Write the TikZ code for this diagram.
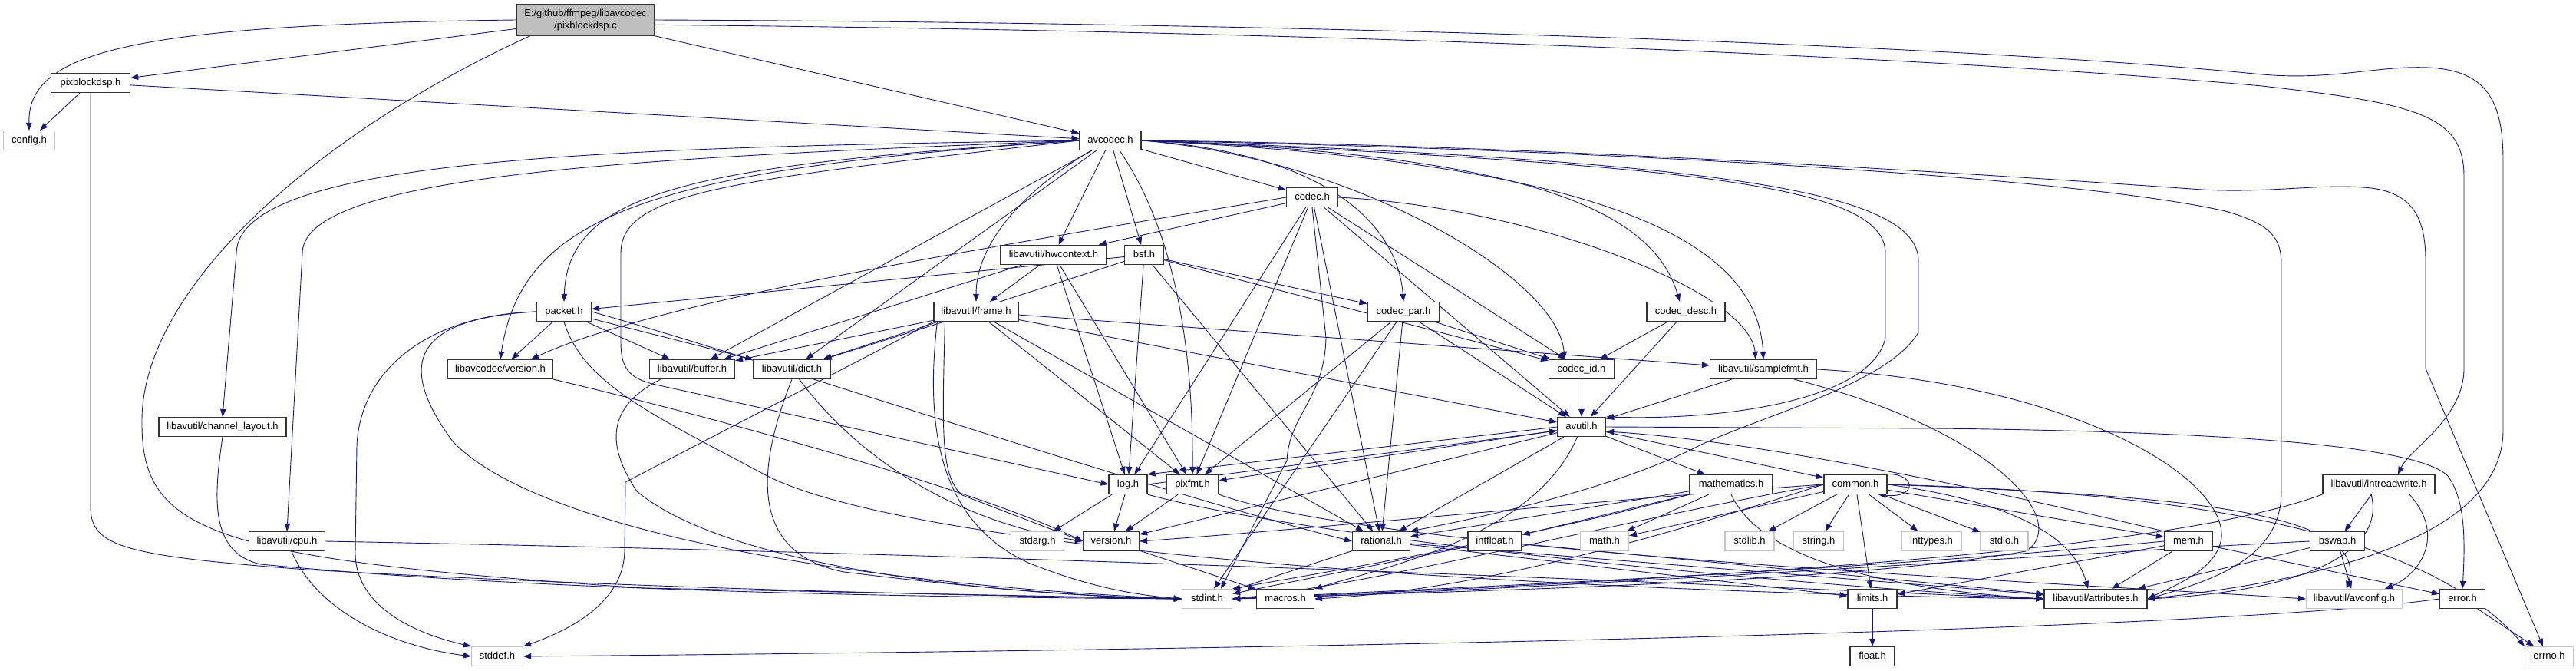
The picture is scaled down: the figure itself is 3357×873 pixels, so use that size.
\documentclass[tikz,border=0pt]{standalone}
\usepackage{fontspec}
\setmainfont{Liberation Sans}
\usepackage{tikz}
\usetikzlibrary{arrows.meta,backgrounds}
\definecolor{edgecol}{RGB}{25,25,112}
\definecolor{rootcol}{RGB}{191,191,191}
\definecolor{extcol}{RGB}{196,196,196}
\pgfdeclarelayer{edgelayer}
\pgfsetlayers{background,edgelayer,main}

\begin{document}
\begin{tikzpicture}[
    x=1pt, y=-1pt,
    dep/.style={-{Triangle[length=10pt,width=7.5pt]}, draw=edgecol, line width=0.9pt},
    box/.style={draw=black!80, line width=1.2pt, fill=white, inner sep=0pt,
                font=\fontsize{13}{16}\selectfont, minimum height=25pt},
    file/.style={box, minimum width=#1pt, text height=9.5pt, text depth=2.5pt},
    ext/.style={file=#1, draw=extcol},
    rootbox/.style={box, fill=rootcol, minimum width=180pt, minimum height=40pt, align=center}
  ]
  \begin{scope}[on background layer]
    \fill[white] (0,0) rectangle (3357,873);
  \end{scope}
  \useasboundingbox (0,0) rectangle (3357,873);

  \node[rootbox] (root) at (763,26) {E:/github/ffmpeg/libavcodec\\/pixblockdsp.c};
  \node[file=103] (pbh) at (118,108) {pixblockdsp.h};
  \node[ext=67] (config) at (38,183) {config.h};
  \node[file=80] (avcodec) at (1447,183) {avcodec.h};
  \node[file=67] (codec) at (1710,257) {codec.h};
  \node[file=138] (hwctx) at (1373,332) {libavutil/hwcontext.h};
  \node[file=51] (bsf) at (1491,332) {bsf.h};
  \node[file=71] (packet) at (735,406) {packet.h};
  \node[file=110] (frame) at (1272,406) {libavutil/frame.h};
  \node[file=94] (codecpar) at (1829,406) {codec\_par.h};
  \node[file=102] (codecdesc) at (2197,406) {codec\_desc.h};
  \node[file=137] (lavcver) at (652,481) {libavcodec/version.h};
  \node[file=111] (buffer) at (902,481) {libavutil/buffer.h};
  \node[file=100] (dict) at (1032,481) {libavutil/dict.h};
  \node[file=85] (codecid) at (2061,481) {codec\_id.h};
  \node[file=139] (samplefmt) at (2298,481) {libavutil/samplefmt.h};
  \node[file=166] (chlayout) at (290,556) {libavutil/channel\_layout.h};
  \node[file=63] (avutil) at (2061,556) {avutil.h};
  \node[file=50] (log) at (1470,631) {log.h};
  \node[file=68] (pixfmt) at (1554,631) {pixfmt.h};
  \node[file=108] (mathematics) at (2256,631) {mathematics.h};
  \node[file=82] (common) at (2418,631) {common.h};
  \node[file=146] (intreadwrite) at (3100,631) {libavutil/intreadwrite.h};
  \node[file=99] (cpu) at (374,705) {libavutil/cpu.h};
  \node[ext=69] (stdarg) at (1352,705) {stdarg.h};
  \node[file=73] (version) at (1448,705) {version.h};
  \node[file=75] (rational) at (1800,705) {rational.h};
  \node[file=70] (intfloat) at (1948,705) {intfloat.h};
  \node[ext=63] (math) at (2091,705) {math.h};
  \node[ext=64] (stdlib) at (2280,705) {stdlib.h};
  \node[ext=65] (string) at (2370,705) {string.h};
  \node[ext=78] (inttypes) at (2517,705) {inttypes.h};
  \node[ext=62] (stdio) at (2612,705) {stdio.h};
  \node[file=63] (mem) at (2852,705) {mem.h};
  \node[file=71] (bswap) at (3046,705) {bswap.h};
  \node[ext=65] (stdint) at (1573,780) {stdint.h};
  \node[file=75] (macros) at (1675,780) {macros.h};
  \node[file=134] (attributes) at (2731,780) {libavutil/attributes.h};
  \node[file=64] (limits) at (2440,780) {limits.h};
  \node[ext=125] (avconfig) at (3068,780) {libavutil/avconfig.h};
  \node[file=59] (error) at (3209,780) {error.h};
  \node[ext=67] (stddef) at (648,855) {stddef.h};
  \node[file=58] (float) at (2440,855) {float.h};
  \node[ext=63] (errno) at (3322,855) {errno.h};

  \begin{pgfonlayer}{edgelayer}
  \draw[dep] (root.west) .. controls (160,32) and (36,70) .. (config.north);
  \draw[dep] (root) -- (pbh);
  \draw[dep] (root) -- (avcodec);
  \draw[dep] (root.196) .. controls (420,170) and (188,370) .. (185,545) .. controls (183,690) and (260,728) .. (840,766) -- (stdint.west);
  \draw[dep] (root.356) .. controls (1700,40) and (2500,72) .. (2948,112) .. controls (3150,135) and (3211,150) .. (3211,230) -- (3211,480) .. controls (3211,545) and (3140,585) .. ([xshift=25pt]intreadwrite.north);
  \draw[dep] (root.east) .. controls (1800,30) and (2600,62) .. (2948,97) .. controls (3040,105) and (3100,85) .. (3165,88) .. controls (3240,92) and (3262,130) .. (3262,210) -- (3262,560) .. controls (3262,690) and (3060,752) .. (attributes.east);

  \draw[dep] (pbh) -- (config);
  \draw[dep] (pbh) -- (avcodec);
  \draw[dep] (pbh.south) -- (118,660) .. controls (118,712) and (160,724) .. (400,742) .. controls (800,765) and (1250,776) .. (stdint.west);

  \draw[dep] (avcodec.west) .. controls (800,192) and (310,205) .. (308,330) -- (chlayout.north);
  \draw[dep] (avcodec.west) .. controls (850,205) and (394,225) .. (394,330) -- (cpu.north);
  \draw[dep] (avcodec.west) .. controls (900,215) and (740,250) .. (packet.north);
  \draw[dep] (avcodec.west) .. controls (850,220) and (680,280) .. (lavcver.north);
  \draw[dep] (avcodec.west) .. controls (950,235) and (809,250) .. (809,330) -- (809,445) .. controls (809,480) and (820,492) .. (850,500) -- (log.west);
  \draw[dep] (avcodec) -- (buffer);
  \draw[dep] (avcodec) -- (dict);
  \draw[dep] ([xshift=-25pt]avcodec.south) .. controls (1330,250) and (1272,320) .. (frame.north);
  \draw[dep] (avcodec) -- (hwctx);
  \draw[dep] (avcodec) -- (bsf);
  \draw[dep] (avcodec) -- (codec);
  \draw[dep] ([xshift=12pt]avcodec.south) .. controls (1530,300) and (1555,450) .. (pixfmt.north);
  \draw[dep] (avcodec.east) .. controls (1740,200) and (1822,300) .. (codecpar.north);
  \draw[dep] (avcodec.east) .. controls (1760,205) and (2030,360) .. ([xshift=-22pt]codecid.north);
  \draw[dep] (avcodec.east) .. controls (1950,200) and (2150,260) .. ([xshift=-8pt]codecdesc.north);
  \draw[dep] (avcodec.east) .. controls (2050,210) and (2290,300) .. (samplefmt.north);
  \draw[dep] (avcodec.east) .. controls (2200,215) and (2457,240) .. (2457,330) -- (2457,440) .. controls (2440,520) and (2250,548) .. (avutil.north east);
  \draw[dep] (avcodec.east) .. controls (2250,210) and (2500,250) .. (2500,340) -- (2500,433) .. controls (2460,500) and (2300,540) .. (2215,580) .. controls (2100,640) and (1900,680) .. (rational.north east);
  \draw[dep] (avcodec.east) .. controls (2100,195) and (2700,230) .. (2900,275) .. controls (2960,292) and (2973,310) .. (2973,345) -- (2973,640) .. controls (2973,720) and (2900,752) .. (attributes.east);
  \draw[dep] (avcodec.east) .. controls (2000,188) and (2600,228) .. (2870,247) .. controls (2960,252) and (3030,238) .. (3090,245) .. controls (3145,252) and (3161,285) .. (3161,340) -- (3161,480) -- ([xshift=-8pt]errno.north);

  \draw[dep] (codec.west) .. controls (1300,320) and (860,390) .. ([xshift=40pt]lavcver.north);
  \draw[dep] (codec) -- (hwctx);
  \draw[dep] (codec) -- (log);
  \draw[dep] (codec) -- (pixfmt);
  \draw[dep] (codec.south) -- (1728,440) .. controls (1726,520) and (1680,540) .. (1677,600) -- ([xshift=18pt]stdint.north);
  \draw[dep] (codec) -- (avutil);
  \draw[dep] (codec) -- (codecid);
  \draw[dep] (codec) -- (rational);
  \draw[dep] (codec.east) .. controls (2000,270) and (2280,380) .. ([xshift=-10pt]samplefmt.north);

  \draw[dep] (hwctx) -- (buffer);
  \draw[dep] (hwctx) -- (frame);
  \draw[dep] (hwctx) -- (log);
  \draw[dep] (hwctx) -- (pixfmt);

  \draw[dep] (bsf) -- (packet);
  \draw[dep] (bsf) -- (dict);
  \draw[dep] (bsf) -- (log);
  \draw[dep] (bsf) -- (rational);
  \draw[dep] (bsf) -- (codecid);
  \draw[dep] (bsf) -- (codecpar);

  \draw[dep] (packet) -- (lavcver);
  \draw[dep] (packet) -- (buffer);
  \draw[dep] (packet) -- (dict);
  \draw[dep] (packet.west) .. controls (560,410) and (470,480) .. (465,580) -- (463,720) .. controls (463,790) and (540,825) .. (stddef.north west);
  \draw[dep] (packet.west) .. controls (530,415) and (520,480) .. (590,575) .. controls (700,690) and (1100,760) .. (stdint.west);
  \draw[dep] (packet.south) .. controls (760,500) and (850,540) .. (1000,620) .. controls (1200,720) and (2000,770) .. (attributes.west);
  \draw[dep] (packet.east) .. controls (1000,470) and (1500,640) .. (rational.west);

  \draw[dep] (frame) -- (buffer);
  \draw[dep] (frame) -- (dict);
  \draw[dep] (frame.south west) -- (815,628) -- (814,716) .. controls (814,790) and (730,825) .. (stddef.north east);
  \draw[dep] ([xshift=5pt]frame.south west) .. controls (1205,560) and (1225,680) .. (1340,733) .. controls (1420,765) and (1480,775) .. (stdint.west);
  \draw[dep] ([xshift=15pt]frame.south west) .. controls (1228,560) and (1225,620) .. (1254,645) -- (version.west);
  \draw[dep] (frame) -- (avutil);
  \draw[dep] (frame) -- (rational);
  \draw[dep] (frame) -- (samplefmt);
  \draw[dep] (frame) -- (pixfmt);

  \draw[dep] (codecpar) -- (codecid);
  \draw[dep] (codecpar) -- (avutil);
  \draw[dep] (codecpar) -- (rational);
  \draw[dep] (codecpar) -- (pixfmt);
  \draw[dep] (codecpar) -- (stdint);

  \draw[dep] (codecdesc) -- (codecid);
  \draw[dep] (codecdesc) -- (avutil);
  \draw[dep] (codecid) -- (avutil);

  \draw[dep] (lavcver.south east) .. controls (1000,560) and (1300,650) .. (version.west);
  \draw[dep] ([xshift=15pt]buffer.south west) .. controls (790,530) and (790,580) .. (830,640) .. controls (950,740) and (1300,775) .. (stdint.west);
  \draw[dep] (dict.south) .. controls (990,600) and (970,720) .. (1100,745) .. controls (1300,770) and (1450,778) .. (stdint.west);
  \draw[dep] (dict) .. controls (1120,600) and (1250,680) .. (version.west);
  \draw[dep] (chlayout.south) .. controls (280,640) and (270,720) .. (340,735) .. controls (700,770) and (1200,778) .. (stdint.west);
  \draw[dep] ([xshift=6pt]cpu.south) .. controls (410,790) and (500,840) .. (stddef.west);
  \draw[dep] (cpu.east) .. controls (1500,725) and (2400,770) .. (attributes.west);

  \draw[dep] (avutil) -- (mathematics);
  \draw[dep] (avutil) -- (common);
  \draw[dep] (avutil) -- (rational);
  \draw[dep] (avutil) -- (version);
  \draw[dep] (avutil) .. controls (2000,700) and (1800,740) .. (macros.north east);
  \draw[dep] (avutil.west) -- (log.north east);
  \draw[dep] (avutil) -- (pixfmt);
  \draw[dep] (avutil.east) -- (2520,558) .. controls (2900,562) and (3150,580) .. (3190,620) .. controls (3212,650) and (3213,700) .. (error.north);

  \draw[dep] (log) -- (stdarg);
  \draw[dep] (log) -- (version);
  \draw[dep] (log.south east) .. controls (1700,700) and (2300,760) .. (attributes.west);
  \draw[dep] (log.east) -- ([yshift=-5pt]avutil.west);

  \draw[dep] (pixfmt) -- (version);
  \draw[dep] (pixfmt.south east) .. controls (1800,720) and (2700,760) .. (avconfig.west);
  \draw[dep] (version) -- (macros);

  \draw[dep] (mathematics) -- (math);
  \draw[dep] (mathematics) -- (intfloat);
  \draw[dep] (mathematics) -- (rational);
  \draw[dep] (mathematics.south west) .. controls (2000,700) and (1700,750) .. (stdint.north east);
  \draw[dep] (mathematics.south) .. controls (2300,740) and (2500,770) .. (attributes.west);

  \draw[dep] ([xshift=-12pt]common.north east) .. controls (2500,612) and (2500,650) .. ([xshift=-12pt]common.south east);
  \draw[dep] (common) -- (stdlib);
  \draw[dep] (common) -- (string);
  \draw[dep] (common) -- (inttypes);
  \draw[dep] (common) -- (stdio);
  \draw[dep] (common) -- (limits);
  \draw[dep] (common) -- (math);
  \draw[dep] (common) -- (mem);
  \draw[dep] (common.east) .. controls (2600,650) and (2700,690) .. ([xshift=-10pt]attributes.north);
  \draw[dep] (common.east) .. controls (2800,640) and (3150,680) .. (errno.north west);
  \draw[dep] (common.east) .. controls (2800,645) and (3090,660) .. ([xshift=-10pt]avconfig.north);
  \draw[dep] (common.west) .. controls (2100,680) and (1800,760) .. (stdint.east);
  \draw[dep] (common.west) .. controls (2100,720) and (1900,770) .. (macros.east);
  \draw[dep] (common.west) .. controls (2100,650) and (1700,690) .. (version.east);

  \draw[dep] (rational) -- (stdint);
  \draw[dep] (rational) -- (limits);
  \draw[dep] (rational) -- (attributes);
  \draw[dep] (intfloat) -- (stdint);
  \draw[dep] (intfloat) -- (attributes);

  \draw[dep] (mem) -- (attributes);
  \draw[dep] (mem) -- (error);
  \draw[dep] (mem) -- (limits);
  \draw[dep] (mem.west) .. controls (2400,745) and (1900,765) .. (stdint.east);
  \draw[dep] (mem.north west) .. controls (2600,640) and (2300,575) .. ([yshift=-6pt]avutil.east);

  \draw[dep] (error) -- (errno);
  \draw[dep] (error.west) .. controls (2900,820) and (1800,845) .. (stddef.east);
  \draw[dep] (limits) -- (float);

  \draw[dep] (intreadwrite) -- (bswap);
  \draw[dep] ([xshift=40pt]intreadwrite.south) .. controls (3190,700) and (3150,750) .. ([xshift=40pt]avconfig.north);
  \draw[dep] ([xshift=-10pt]intreadwrite.south) .. controls (3110,720) and (3000,770) .. (attributes.east);
  \draw[dep] (intreadwrite.south west) .. controls (2900,690) and (2600,740) .. (stdint.east);

  \draw[dep] (bswap) -- (avconfig);
  \draw[dep] (bswap) -- (attributes);
  \draw[dep] (bswap.west) .. controls (2700,720) and (2000,770) .. (stdint.east);

  \draw[dep] (samplefmt) -- (avutil);
  \draw[dep] (samplefmt.east) .. controls (2700,500) and (2900,620) .. (2895,700) .. controls (2890,740) and (2840,760) .. (attributes.east);
  \draw[dep] ([xshift=40pt]samplefmt.south) .. controls (2600,560) and (2700,680) .. (2640,718) .. controls (2400,760) and (1900,770) .. (stdint.east);
  \end{pgfonlayer}
\end{tikzpicture}
\end{document}
